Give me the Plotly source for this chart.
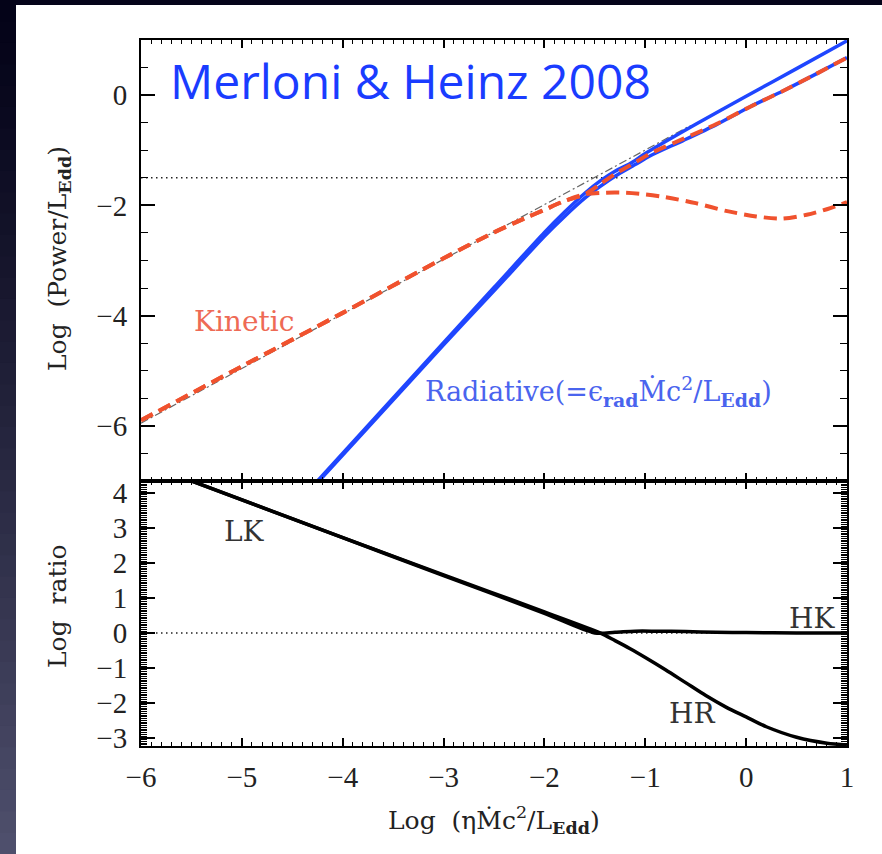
import plotly.graph_objects as go

W, H = 882, 854

# ---- top panel: log power in Eddington units vs log accretion rate ----
total_x = [-6.0, -0.55]
total_y = [-5.95, -0.55]

# kinetic power, low state shared by both branches
kin_low_x = [-6.0, -5.0, -4.0, -3.0, -2.5, -2.2, -2.0, -1.8, -1.6]
kin_low_y = [-5.9, -4.92, -3.95, -2.96, -2.49, -2.24, -2.08, -1.92, -1.8]

# kinetic power, high-radiative branch
kin_hr_x = [-1.6, -1.4, -1.2, -1.0, -0.8, -0.5, -0.2, 0.1, 0.35, 0.6, 0.8, 1.0]
kin_hr_y = [-1.8, -1.77, -1.77, -1.8, -1.85, -1.96, -2.1, -2.2, -2.24, -2.17, -2.07, -1.94]

# kinetic power, high-kinetic branch
kin_hk_x = [-1.6, -1.45, -1.3, -1.1, -0.95, -0.62, -0.29, 0.04, 0.37, 0.70, 1.0]
kin_hk_y = [-1.8, -1.62, -1.43, -1.22, -1.06, -0.79, -0.52, -0.21, 0.08, 0.39, 0.68]

# radiative power, high-radiative branch
rad_hr_x = [-4.3, -3.0, -2.5, -2.0, -1.8, -1.6, -1.45, -1.3, -1.15, -1.0, -0.5, 0.0, 0.5, 1.0]
rad_hr_y = [-7.1, -4.49, -3.49, -2.49, -2.12, -1.78, -1.56, -1.38, -1.24, -1.06, -0.53, -0.02, 0.48, 0.985]

# radiative power, high-kinetic branch
rad_hk_x = [-4.3, -3.0, -2.5, -2.0, -1.8, -1.6, -1.45, -1.3, -1.1, -0.95, -0.62, -0.29, 0.04, 0.37, 0.70, 1.0]
rad_hk_y = [-7.13, -4.53, -3.55, -2.56, -2.2, -1.87, -1.66, -1.47, -1.26, -1.1, -0.82, -0.53, -0.21, 0.08, 0.39, 0.68]

threshold_x = [-6.0, 1.0]
threshold_y = [-1.5, -1.5]

# ---- bottom panel: log(kinetic / radiative) ----
ratio_hk_x = [-5.6, -4.0, -3.0, -2.0, -1.5, -1.3, -1.1, -0.9, -0.6, -0.3, 0.0, 0.5, 1.0]
ratio_hk_y = [4.45, 2.72, 1.64, 0.56, 0.0, 0.02, 0.05, 0.05, 0.04, 0.02, 0.01, 0.0, 0.0]

ratio_hr_x = [-5.6, -4.0, -3.0, -2.0, -1.45, -1.3, -1.15, -1.0, -0.8, -0.6, -0.4, -0.2,
              0.0, 0.2, 0.5, 0.8, 1.0]
ratio_hr_y = [4.45, 2.72, 1.66, 0.6, 0.0, -0.22, -0.45, -0.7, -1.05, -1.42, -1.79, -2.12,
              -2.4, -2.68, -2.98, -3.15, -3.2]

zero_x = [-6.0, 1.0]
zero_y = [0.0, 0.0]

BLUE = "#1f46ff"
RED = "#f0522e"

fig = go.Figure()


def line(x, y, color, width, dash="solid", xa="x", ya="y", shape="spline"):
    fig.add_trace(go.Scatter(x=x, y=y, mode="lines", xaxis=xa, yaxis=ya,
                             line=dict(color=color, width=width, dash=dash,
                                       shape=shape, smoothing=0.8),
                             hoverinfo="skip", showlegend=False))


# top panel
line(threshold_x, threshold_y, "#222", 1.5, "1.5px,3.5px", shape="linear")
line(total_x, total_y, "#666", 1.2, "8px,3px,2px,3px", shape="linear")
line(rad_hk_x, rad_hk_y, BLUE, 3.5)
line(rad_hr_x, rad_hr_y, BLUE, 3.5)
line(kin_low_x + kin_hr_x[1:], kin_low_y + kin_hr_y[1:], RED, 4, "13px,7px")
line(kin_low_x + kin_hk_x[1:], kin_low_y + kin_hk_y[1:], RED, 4, "13px,7px")

# bottom panel
line(zero_x, zero_y, "#222", 1.5, "1.5px,3.5px", "x2", "y2", shape="linear")
line(ratio_hk_x, ratio_hk_y, "black", 3.5, "solid", "x2", "y2")
line(ratio_hr_x, ratio_hr_y, "black", 3.5, "solid", "x2", "y2")

TICKFONT = dict(family="Liberation Serif", size=29, color="#222")
LABELFONT = "DejaVu Serif"

x_dom = [141 / W, 847 / W]
top_dom = [1 - 481 / H, 1 - 40 / H]
bot_dom = [1 - 746 / H, 1 - 481 / H]

common_x = dict(range=[-6, 1], tick0=-6, dtick=1, ticks="inside", ticklen=8, tickwidth=1.5,
                tickcolor="black", mirror="allticks", showline=True, linecolor="black",
                linewidth=2, showgrid=False, zeroline=False, domain=x_dom, automargin=False,
                minor=dict(dtick=0.1, ticks="inside", ticklen=4, tickwidth=1, tickcolor="black",
                           showgrid=False))

fig.update_layout(
    width=W, height=H, autosize=False,
    margin=dict(l=0, r=0, t=0, b=0, pad=0, autoexpand=False),
    paper_bgcolor="white", plot_bgcolor="white",
    xaxis=dict(common_x, anchor="y", showticklabels=False),
    yaxis=dict(range=[-7, 1], tick0=0, dtick=2, domain=top_dom, anchor="x",
               ticks="inside", ticklen=14, tickwidth=1.5, tickcolor="black",
               mirror="allticks", showline=True, linecolor="black", linewidth=2,
               showgrid=False, zeroline=False, tickfont=TICKFONT, ticklabelstandoff=6,
               automargin=False,
               minor=dict(dtick=0.5, ticks="inside", ticklen=7, tickwidth=1.2,
                          tickcolor="black", showgrid=False)),
    xaxis2=dict(common_x, anchor="y2", tickfont=TICKFONT, ticklabelstandoff=4),
    yaxis2=dict(range=[-3.23, 4.34], tick0=0, dtick=1, domain=bot_dom, anchor="x2",
                ticks="inside", ticklen=14, tickwidth=1.5, tickcolor="black",
                mirror="allticks", showline=True, linecolor="black", linewidth=2,
                showgrid=False, zeroline=False, tickfont=TICKFONT, ticklabelstandoff=6,
                automargin=False,
                minor=dict(dtick=0.05, ticks="inside", ticklen=6, tickwidth=1,
                           tickcolor="black", showgrid=False)),
)

# dark slide border: top band and vertical gradient on the left edge
shapes = [dict(type="rect", xref="paper", yref="paper", x0=0, x1=1, y0=1 - 5 / H, y1=1,
               fillcolor="#05041a", line=dict(width=0), layer="above")]
top_rgb = (4, 3, 24)
bot_rgb = (78, 79, 108)
n = 40
for i in range(n):
    t = i / (n - 1)
    c = tuple(int(round(a + (b - a) * t ** 1.2)) for a, b in zip(top_rgb, bot_rgb))
    shapes.append(dict(type="rect", xref="paper", yref="paper",
                       x0=0, x1=16 / W, y0=1 - (i + 1) / n - 0.002, y1=1 - i / n,
                       fillcolor="rgb(%d,%d,%d)" % c, line=dict(width=0), layer="above"))
fig.update_layout(shapes=shapes)

ann = [
    dict(text="Merloni & Heinz 2008", x=-5.73, y=0.26, xref="x", yref="y",
         xanchor="left", yanchor="middle", showarrow=False,
         font=dict(family="Open Sans", size=48, color="#1a3cff")),
    dict(text="Kinetic", x=-5.49, y=-4.1, xref="x", yref="y", xanchor="left",
         yanchor="middle", showarrow=False,
         font=dict(family=LABELFONT, size=28, color="#ee6a55")),
    dict(text="Radiative(=ϵ<sub><b>rad</b></sub>Ṁc<sup>2</sup>/L<sub><b>Edd</b></sub>)",
         x=-3.2, y=-5.38, xref="x", yref="y", xanchor="left", yanchor="middle",
         showarrow=False, font=dict(family=LABELFONT, size=27, color="#4a64ee")),
    dict(text="LK", x=-5.2, y=2.91, xref="x2", yref="y2", xanchor="left",
         yanchor="middle", showarrow=False, font=dict(family=LABELFONT, size=28, color="#333")),
    dict(text="HK", x=0.9, y=0.4, xref="x2", yref="y2", xanchor="right",
         yanchor="middle", showarrow=False, font=dict(family=LABELFONT, size=28, color="#333")),
    dict(text="HR", x=-0.785, y=-2.29, xref="x2", yref="y2", xanchor="left",
         yanchor="middle", showarrow=False, font=dict(family=LABELFONT, size=28, color="#333")),
    dict(text="Log  (Power/L<sub><b>Edd</b></sub>)", x=59 / W, y=1 - 259 / H,
         xref="paper", yref="paper", textangle=-90, showarrow=False,
         xanchor="center", yanchor="middle",
         font=dict(family=LABELFONT, size=25, color="#222")),
    dict(text="Log  ratio", x=57 / W, y=1 - 606 / H, xref="paper", yref="paper",
         textangle=-90, showarrow=False, xanchor="center", yanchor="middle",
         font=dict(family=LABELFONT, size=25, color="#222")),
    dict(text="Log  (ηṀc<sup>2</sup>/L<sub><b>Edd</b></sub>)", x=494 / W, y=1 - 820 / H,
         xref="paper", yref="paper", showarrow=False, xanchor="center", yanchor="middle",
         font=dict(family=LABELFONT, size=25, color="#222")),
]
fig.update_layout(annotations=ann)

fig.write_html("out.html")
